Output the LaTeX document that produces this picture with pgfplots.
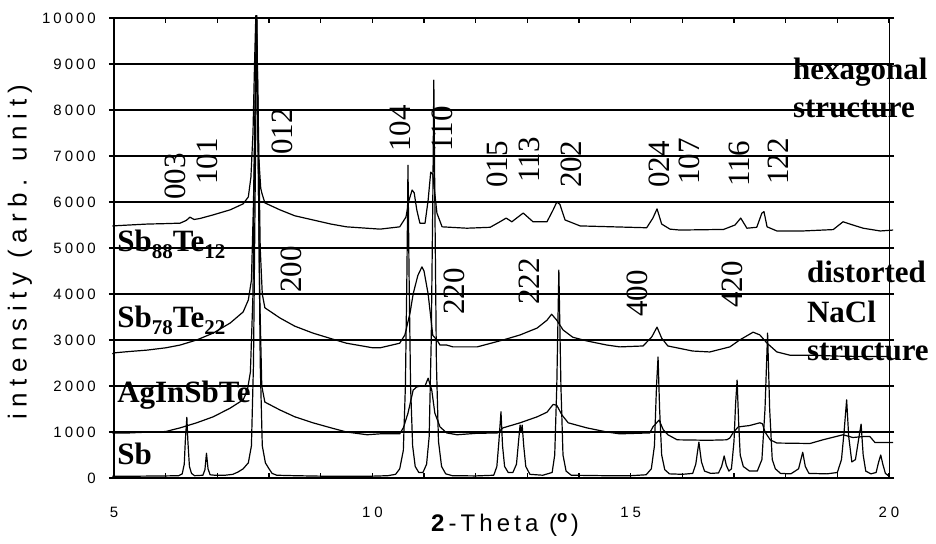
\documentclass[border=0pt]{standalone}
\usepackage{fontspec}
\setmainfont{Liberation Serif}
\newfontfamily\tickfont[LetterSpace=26]{Liberation Sans}
\newfontfamily\ytickfont[LetterSpace=20]{Liberation Sans}
\newfontfamily\labfont[LetterSpace=25]{Liberation Sans}
\newfontfamily\xlabfont[LetterSpace=17]{Liberation Sans}
\usepackage{pgfplots}
\pgfplotsset{compat=1.18}
\newcommand\ann{\fontsize{31bp}{37bp}\selectfont\bfseries}
\newcommand\idx{\fontsize{31bp}{31bp}\selectfont}
\newcommand\sub[1]{\raisebox{-0.22em}{\fontsize{21bp}{21bp}\selectfont #1}}
\tikzset{trace/.style={black, line width=1.2bp, line join=round, mark=none}}
\begin{document}
\begin{tikzpicture}[x=1bp,y=1bp]
\useasboundingbox (-114,-66) rectangle (822,478);
\begin{axis}[
  at={(0,0)}, anchor=south west,
  scale only axis, width=775bp, height=460bp,
  xmin=5, xmax=20, ymin=0, ymax=10000,
  clip=false,
  axis line style={line width=1bp},
  xtick={5,...,20},
  xticklabels={5,,,,,10,,,,,15,,,,,20},
  ytick={0,1000,...,10000},
  yticklabels={0,1000,2000,3000,4000,5000,6000,7000,8000,9000,10000},
  scaled y ticks=false,
  xtick align=inside, ytick align=outside,
  major tick length=5bp,
  tick style={black, line width=1.3bp},
  ymajorgrids,
  major grid style={black, line width=1.3bp},
  yticklabel style={font=\ytickfont\fontsize{15bp}{15bp}\selectfont, anchor=east, inner sep=0pt, xshift=-13bp},
  xticklabel style={font=\tickfont\fontsize{15bp}{15bp}\selectfont, anchor=north, inner sep=0pt, yshift=-28.5bp},
]
% Sb
\addplot[trace] coordinates {(4.97,40) (5.5,40) (6.0,45) (6.25,50) (6.32,90) (6.36,300) (6.38,800) (6.41,1320) (6.43,800) (6.46,250) (6.50,100) (6.56,50) (6.72,60) (6.76,180) (6.79,540) (6.82,200) (6.86,70) (6.95,60) (7.15,60) (7.3,80) (7.4,130) (7.5,200) (7.6,330) (7.66,700) (7.70,2500) (7.73,6000) (7.765,10050) (7.80,6000) (7.83,2500) (7.87,700) (7.93,330) (8.0,200) (8.06,100) (8.15,60) (8.5,50) (9.0,40) (9.5,40) (10.0,40) (10.3,50) (10.45,80) (10.53,200) (10.60,600) (10.64,2000) (10.67,4500) (10.69,6800) (10.71,4500) (10.74,2000) (10.78,700) (10.83,250) (10.9,120) (10.98,120) (11.05,300) (11.10,900) (11.14,3000) (11.17,6000) (11.19,8650) (11.21,6000) (11.24,2500) (11.28,800) (11.34,250) (11.42,90) (11.55,50) (12.0,45) (12.35,60) (12.41,250) (12.45,800) (12.49,1440) (12.52,700) (12.56,250) (12.63,120) (12.72,120) (12.79,300) (12.83,800) (12.86,1150) (12.88,1000) (12.90,1150) (12.93,700) (12.97,250) (13.05,80) (13.3,60) (13.48,120) (13.53,500) (13.57,2000) (13.61,4520) (13.65,2000) (13.69,500) (13.75,150) (13.85,60) (14.5,50) (15.0,50) (15.3,70) (15.40,200) (15.46,700) (15.50,2000) (15.53,2630) (15.56,1500) (15.60,500) (15.66,180) (15.75,90) (16.0,80) (16.2,100) (16.26,300) (16.32,780) (16.37,350) (16.43,150) (16.55,100) (16.7,110) (16.76,250) (16.81,480) (16.85,280) (16.9,150) (16.95,200) (17.0,800) (17.03,1600) (17.06,2130) (17.09,1200) (17.12,500) (17.18,250) (17.3,150) (17.45,150) (17.54,400) (17.60,1500) (17.65,3150) (17.69,1500) (17.74,400) (17.80,200) (17.9,100) (18.1,90) (18.25,200) (18.33,560) (18.38,250) (18.45,100) (18.8,90) (19.0,120) (19.08,400) (19.13,1000) (19.18,1700) (19.22,900) (19.28,350) (19.35,400) (19.42,900) (19.46,1170) (19.5,500) (19.55,150) (19.65,90) (19.75,120) (19.80,350) (19.84,500) (19.88,300) (19.93,100) (20.0,40)};
% AgInSbTe
\addplot[trace] coordinates {(4.97,980) (5.2,975) (5.5,990) (5.8,1000) (6.0,1010) (6.28,1090) (6.6,1200) (6.92,1330) (7.25,1520) (7.5,1700) (7.58,1900) (7.64,2300) (7.69,4000) (7.72,7000) (7.755,10050) (7.79,7000) (7.82,4000) (7.86,2000) (7.92,1650) (8.21,1480) (8.5,1330) (8.85,1200) (9.2,1090) (9.5,1000) (9.9,940) (10.15,960) (10.53,960) (10.6,1090) (10.69,1410) (10.79,1910) (10.86,1980) (10.95,2000) (11.02,2000) (11.08,2170) (11.15,1910) (11.21,1410) (11.31,1110) (11.44,980) (11.64,940) (12.0,970) (12.42,980) (12.53,1090) (12.86,1200) (13.19,1330) (13.38,1430) (13.5,1600) (13.57,1580) (13.67,1370) (13.79,1200) (14.15,1090) (14.54,1000) (14.79,960) (15.37,980) (15.43,1110) (15.55,1260) (15.63,1050) (15.72,940) (15.9,830) (16.5,820) (16.86,830) (16.92,870) (16.98,980) (17.08,1110) (17.3,1140) (17.5,1200) (17.55,1180) (17.6,1000) (17.7,830) (17.83,760) (18.47,750) (18.72,830) (19.11,940) (19.3,880) (19.5,900) (19.63,900) (19.73,770) (20.08,770)};
% Sb78Te22
\addplot[trace] coordinates {(4.97,2700) (5.0,2720) (5.3,2750) (5.64,2780) (6.0,2830) (6.28,2890) (6.6,3000) (6.92,3150) (7.25,3370) (7.5,3610) (7.6,3870) (7.66,4300) (7.70,6000) (7.735,8500) (7.76,10050) (7.79,8000) (7.83,5000) (7.87,4000) (7.92,3700) (8.21,3480) (8.5,3300) (8.85,3150) (9.2,3030) (9.5,2930) (10.01,2830) (10.15,2830) (10.53,2930) (10.63,3110) (10.73,3590) (10.79,4000) (10.88,4400) (10.96,4590) (11.0,4500) (11.08,4000) (11.17,3100) (11.25,3000) (11.31,2890) (11.44,2890) (11.56,2850) (12.03,2850) (12.53,3000) (12.86,3110) (13.19,3260) (13.38,3430) (13.47,3560) (13.57,3430) (13.69,3220) (13.88,3060) (14.15,2980) (14.54,2890) (14.79,2850) (15.24,2870) (15.41,3070) (15.51,3280) (15.6,3040) (15.72,2870) (16.2,2760) (16.53,2740) (16.92,2850) (17.11,3000) (17.37,3170) (17.5,3110) (17.64,2930) (17.83,2740) (18.08,2670) (18.47,2670) (19.0,2650) (19.5,2640) (20.0,2640)};
% Sb88Te12
\addplot[trace] coordinates {(4.97,5480) (5.3,5500) (5.64,5520) (6.0,5530) (6.28,5540) (6.4,5600) (6.47,5670) (6.55,5620) (6.66,5640) (6.92,5720) (7.25,5830) (7.5,5960) (7.6,6110) (7.65,6540) (7.69,7500) (7.72,9000) (7.745,10050) (7.77,9000) (7.80,7000) (7.84,6300) (7.86,6200) (7.92,5980) (8.21,5830) (8.5,5700) (8.85,5610) (9.2,5520) (9.5,5460) (10.15,5410) (10.53,5460) (10.65,5670) (10.71,6040) (10.77,6260) (10.81,6200) (10.86,5830) (10.92,5540) (11.02,5540) (11.08,6040) (11.13,6650) (11.17,6600) (11.25,5760) (11.35,5460) (11.83,5430) (12.28,5450) (12.47,5570) (12.59,5650) (12.7,5570) (12.92,5760) (13.11,5570) (13.38,5570) (13.5,5830) (13.57,6000) (13.63,5950) (13.73,5610) (14.02,5480) (14.66,5460) (15.31,5440) (15.43,5650) (15.51,5850) (15.6,5520) (15.76,5410) (15.95,5390) (16.59,5400) (16.79,5400) (17.02,5500) (17.13,5650) (17.25,5430) (17.44,5450) (17.54,5760) (17.58,5790) (17.64,5460) (17.83,5370) (18.33,5370) (18.92,5400) (19.11,5570) (19.3,5500) (19.5,5430) (19.83,5370) (20.08,5390)};
% axis lines
\draw[line width=2.5bp] (rel axis cs:0,1) -- (rel axis cs:0,0) -- (rel axis cs:1,0);
% axis labels
\node[rotate=90, font=\labfont\fontsize{26bp}{26bp}\selectfont, anchor=center] at (rel axis cs:-0.1213,0.491) {intensity (arb. unit)};
\node[font=\xlabfont\fontsize{24bp}{24bp}\selectfont, anchor=center] at (rel axis cs:0.5045,-0.1022) {\textbf{2}-Theta (\textsuperscript{\textbf{o}})};
% peak indices
\begin{scope}[every node/.style={rotate=90, anchor=west, inner sep=0pt, font=\idx}]
\node at (axis cs:6.18,6044) {003};
\node at (axis cs:6.80,6370) {101};
\node at (axis cs:8.25,7022) {012};
\node at (axis cs:8.43,4022) {200};
\node at (axis cs:10.55,7087) {104};
\node at (axis cs:11.35,7087) {110};
\node at (axis cs:12.41,6305) {015};
\node at (axis cs:13.03,6413) {113};
\node at (axis cs:13.86,6305) {202};
\node at (axis cs:15.55,6305) {024};
\node at (axis cs:16.13,6370) {107};
\node at (axis cs:17.10,6326) {116};
\node at (axis cs:17.85,6370) {122};
\node at (axis cs:11.58,3544) {220};
\node at (axis cs:13.03,3761) {222};
\node at (axis cs:15.12,3500) {400};
\node at (axis cs:16.96,3696) {420};
\end{scope}
% annotations
\begin{scope}[every node/.style={anchor=base west, inner sep=0pt, font=\ann}]
\node at (axis cs:18.14,8652) {hexagonal};
\node at (axis cs:18.14,7826) {structure};
\node at (axis cs:18.41,4239) {distorted};
\node at (axis cs:18.41,3391) {NaCl};
\node at (axis cs:18.41,2565) {structure};
\node at (axis cs:5.06,4913) {Sb\sub{88}Te\sub{12}};
\node at (axis cs:5.06,3261) {Sb\sub{78}Te\sub{22}};
\node at (axis cs:5.06,1652) {AgInSbTe};
\node at (axis cs:5.06,283) {Sb};
\end{scope}
\end{axis}
\end{tikzpicture}
\end{document}
